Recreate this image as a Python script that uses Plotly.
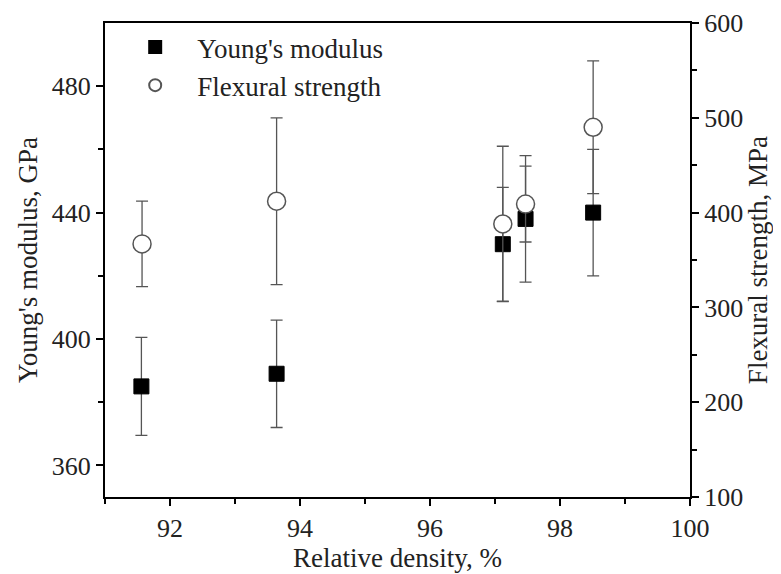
import plotly.graph_objs as go

# relative density, %
density_ym = [91.56, 93.64, 97.12, 97.47, 98.51]
youngs_modulus = [385, 389, 430, 438, 440]
youngs_err = [15.5, 17, 18, 20, 20]

density_fs = [91.57, 93.64, 97.12, 97.47, 98.51]
flexural_strength = [367, 412, 388, 409, 490]
flexural_err = [45, 88, 82, 40, 70]

FONT = "'Liberation Serif', 'Times New Roman', serif"
TXT = "#222222"

fig = go.Figure()

fig.add_trace(go.Scatter(
    x=density_ym, y=youngs_modulus, mode="markers", name="Young's modulus",
    marker=dict(symbol="square", size=15, color="black", line=dict(color="black", width=1)),
    error_y=dict(type="data", array=youngs_err, visible=True, color="#555555", thickness=1.3, width=6),
    yaxis="y"
))
fig.add_trace(go.Scatter(
    x=density_fs, y=flexural_strength, mode="markers", name="Flexural strength",
    marker=dict(symbol="circle", size=18, color="white", line=dict(color="#555555", width=1.5)),
    error_y=dict(type="data", array=flexural_err, visible=True, color="#555555", thickness=1.3, width=6),
    yaxis="y2"
))

axis_style = dict(
    showline=True, linecolor="black", linewidth=2, automargin=False,
    ticks="outside", tickcolor="black", tickwidth=1.5, ticklen=7,
    showgrid=False, zeroline=False,
    tickfont=dict(family=FONT, size=26, color=TXT),
    title_font=dict(family=FONT, size=27, color=TXT),
)

# page body keeps an 8px default margin, so the figure is a bit smaller
fig.update_layout(
    width=773, height=566,
    margin=dict(l=97, r=91, t=15, b=77),
    plot_bgcolor="white", paper_bgcolor="white",
    font=dict(family=FONT, color=TXT),
    xaxis=dict(
        range=[91, 100], dtick=2, tick0=92, mirror=True,
        title=dict(text="Relative density, %", standoff=4),
        minor=dict(dtick=1, ticks="outside", ticklen=5, tickcolor="black", tickwidth=1.5),
        **axis_style
    ),
    yaxis=dict(
        range=[350, 500], tickvals=[360, 400, 440, 480],
        title=dict(text="Young's modulus, GPa", standoff=6),
        minor=dict(tickvals=[380, 420, 460], ticks="outside", ticklen=5, tickcolor="black", tickwidth=1.5),
        **axis_style
    ),
    yaxis2=dict(
        range=[100, 600], dtick=100, overlaying="y", side="right",
        title=dict(text="Flexural strength, MPa", standoff=6),
        minor=dict(dtick=50, ticks="outside", ticklen=5, tickcolor="black", tickwidth=1.5),
        **axis_style
    ),
    legend=dict(
        x=0.014, y=1.0, xanchor="left", yanchor="top",
        bgcolor="rgba(0,0,0,0)", font=dict(family=FONT, size=27, color=TXT),
        itemsizing="constant", itemwidth=74, tracegroupgap=0
    ),
)

fig.write_html("out.html")
